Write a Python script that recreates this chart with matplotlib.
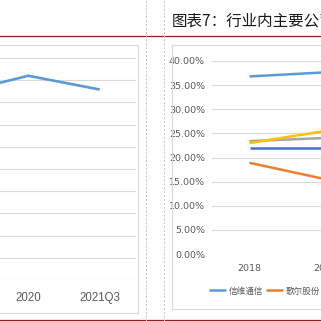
import numpy as np
import matplotlib
matplotlib.use("Agg")
import matplotlib.pyplot as plt
from matplotlib.patches import Rectangle
from matplotlib.lines import Line2D
from matplotlib.ticker import FuncFormatter

plt.rcParams['font.family'] = ['Noto Sans CJK SC', 'DejaVu Sans']

# left chart (partly visible): one company's margin, %
left_years = ["2019", "2020", "2021Q3"]
left_values = [42.0, 46.0, 42.9]

# right chart: margins of main companies, %
right_years = ["2018", "2019", "2020", "2021Q3"]
xinwei = [36.8, 37.65]      # 信维通信
goer = [18.9, 15.5]         # 歌尔股份
series_gray = [23.4, 24.05]
series_yellow = [23.0, 25.5]
series_darkblue = [21.9, 21.9]

title_text = "图表7：行业内主要公司毛利率对比"

W = H = 321.0


def fx(px):
    return px / W


def fy(py):
    return 1 - py / H


fig = plt.figure(figsize=(3.21, 3.21), dpi=100)
fig.patch.set_facecolor("white")

red = "#8C1F1F"
grid_c = "#D9D9D9"
txt_c = "#595959"

# page decorations
fig.add_artist(Line2D([0, 1], [fy(36), fy(36)], color=red, lw=0.9, transform=fig.transFigure))
fig.add_artist(Line2D([0, 1], [fy(319.5), fy(319.5)], color=red, lw=0.9, transform=fig.transFigure))
for xv in (145.5, 163.5):
    fig.add_artist(Line2D([fx(xv), fx(xv)], [0, 1], color="#C0C0C0", lw=0.7,
                          ls=(0, (2, 2)), transform=fig.transFigure))

# chart frames
fig.add_artist(Rectangle((fx(-5), fy(313)), fx(143), 268 / H, fill=False,
                         ec=grid_c, lw=0.8, transform=fig.transFigure))
fig.add_artist(Rectangle((fx(172), fy(309)), fx(160), 264 / H, fill=False,
                         ec=grid_c, lw=0.8, transform=fig.transFigure))

fig.text(fx(172), fy(21), title_text, fontsize=11.2, color="#1A1A1A", va="center", ha="left")

# ---- left chart ----
band = 71.5
right_edge = 135.5
ax1 = fig.add_axes([fx(right_edge - band * len(left_years)), fy(280),
                    band * len(left_years) / W, 222 / H])
x1 = np.arange(len(left_years))
ax1.plot(x1, left_values, color="#5B9BD5", lw=1.9, solid_capstyle="butt")
ax1.set_xlim(-0.5, len(left_years) - 0.5)
ax1.set_ylim(0, 50)
ax1.set_yticks(np.arange(0, 51, 5))
ax1.yaxis.grid(True, color=grid_c, lw=0.8)
ax1.set_axisbelow(True)
ax1.set_xticks(x1)
ax1.set_xticklabels(left_years, fontsize=8.3, color=txt_c, family=["Liberation Sans", "DejaVu Sans"])
ax1.tick_params(axis="x", length=0, pad=8.5)
ax1.tick_params(axis="y", length=0, labelleft=False)
for s in ax1.spines.values():
    s.set_visible(False)

# ---- right chart ----
band2 = 76.0
ax2 = fig.add_axes([fx(211.5), fy(254), band2 * len(right_years) / W, (254 - 61) / H])
series = [
    (xinwei, "#5B9BD5", "信维通信"),
    (goer, "#ED7D31", "歌尔股份"),
    (series_gray, "#A5A5A5", None),
    (series_yellow, "#FFC000", None),
    (series_darkblue, "#4472C4", None),
]
handles = []
for vals, col, name in series:
    ln, = ax2.plot(np.arange(len(vals)), vals, color=col, lw=1.8, solid_capstyle="butt")
    if name:
        ln.set_label(name)
        handles.append(ln)
ax2.set_xlim(-0.5, len(right_years) - 0.5)
ax2.set_ylim(0, 40)
ax2.set_yticks(np.arange(0, 41, 5))
ax2.yaxis.set_major_formatter(FuncFormatter(lambda v, p: f"{v:.2f}%"))
ax2.yaxis.grid(True, color=grid_c, lw=0.8)
ax2.set_axisbelow(True)
ax2.set_xticks(np.arange(len(right_years)))
ax2.set_xticklabels(right_years)
narrow = ["Liberation Sans Narrow", "DejaVu Sans"]
for lab in ax2.get_xticklabels() + ax2.get_yticklabels():
    lab.set_family(narrow)
    lab.set_fontsize(6.8)
    lab.set_color(txt_c)
ax2.tick_params(axis="y", length=0, pad=4.7)
ax2.tick_params(axis="x", length=0, pad=7)
for s in ax2.spines.values():
    s.set_visible(False)

fig.legend(handles=handles, loc="center left", bbox_to_anchor=(fx(209), fy(291)),
           ncol=len(handles), frameon=False, fontsize=6.2, labelcolor=txt_c,
           handlelength=2.0, handletextpad=0.35, columnspacing=0.25,
           borderpad=0, borderaxespad=0)

fig.savefig("out.png", dpi=100)
